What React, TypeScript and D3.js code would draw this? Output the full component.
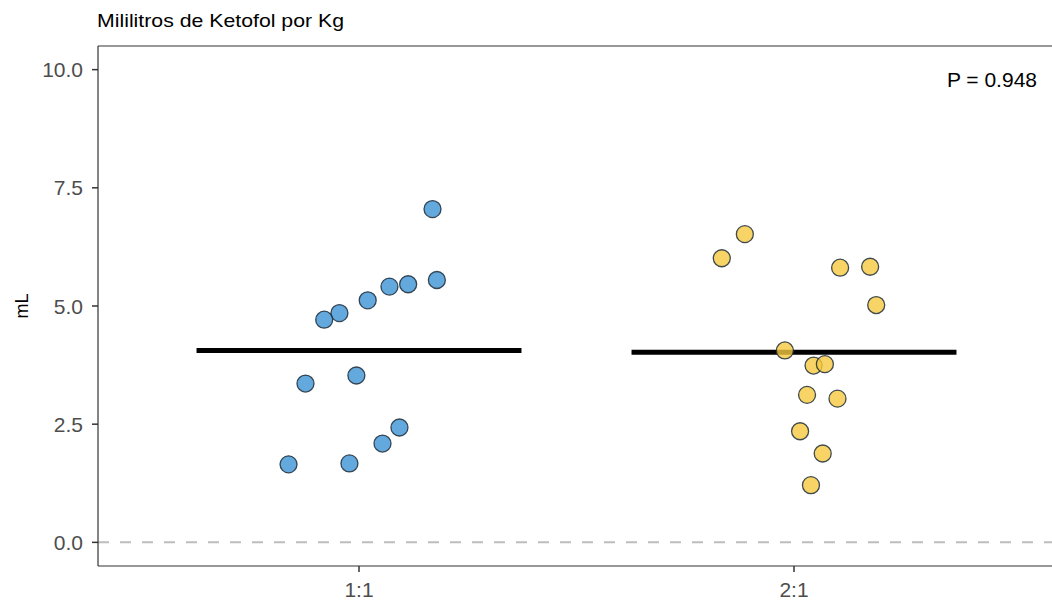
import React from "react";
import * as d3 from "d3";

const groups = ["1:1", "2:1"];
const valuesA = [7.05, 5.55, 5.46, 5.41, 5.12, 4.85, 4.71, 3.36, 3.53, 2.43, 2.09, 1.67, 1.65];
const jitterA = [0.169, 0.179, 0.113, 0.07, 0.02, -0.045, -0.08, -0.123, -0.006, 0.093, 0.054, -0.022, -0.162];
const valuesB = [6.52, 6.01, 5.81, 5.83, 5.02, 4.06, 3.74, 3.77, 3.12, 3.04, 2.35, 1.88, 1.21];
const jitterB = [-0.113, -0.166, 0.106, 0.175, 0.189, -0.021, 0.045, 0.071, 0.03, 0.1, 0.014, 0.066, 0.039];
const means = [4.06, 4.02];
const yTicks = [0, 2.5, 5, 7.5, 10];
const fills = ["#3d93d4", "#f5c93e"];
const title = "Mililitros de Ketofol por Kg";
const yLabel = "mL";
const pLabel = "P = 0.948";

export default function App() {
  const W = 1052, H = 601;
  const left = 98, top = 46, bottom = 566;
  const x = d3.scaleLinear().domain([0.4, 2.6]).range([left, 1055]);
  const y = d3.scaleLinear().domain([-0.5, 10.5]).range([bottom, top]);
  const font = "Arial, 'Liberation Sans', sans-serif";
  const series = [
    { vals: valuesA, jit: jitterA },
    { vals: valuesB, jit: jitterB },
  ];
  return (
    <svg width={W} height={H} style={{ position: "absolute", left: 0, top: 0, background: "#fff" }} fontFamily={font}>
      <rect x={0} y={0} width={W} height={H} fill="#fff" />
      <text x={97} y={27} fontSize={19} textLength={247} lengthAdjust="spacingAndGlyphs" fill="#000">{title}</text>
      <defs>
        <clipPath id="panel">
          <rect x={left} y={top} width={W - left} height={bottom - top} />
        </clipPath>
      </defs>
      <g clipPath="url(#panel)">
        <line x1={left} x2={W} y1={y(0)} y2={y(0)} stroke="#bdbdbd" strokeWidth={2} strokeDasharray="11,11" />
        {means.map((m, i) => (
          <line key={i} x1={x(i + 1 - 0.3735)} x2={x(i + 1 + 0.3735)} y1={y(m)} y2={y(m)} stroke="#000" strokeWidth={5} />
        ))}
        {series.map((s, gi) =>
          s.vals.map((v, k) => (
            <circle key={gi + "-" + k} cx={x(gi + 1 + s.jit[k])} cy={y(v)} r={8.5}
              fill={fills[gi]} fillOpacity={0.8} stroke="#1f2d3a" strokeOpacity={0.85} strokeWidth={1.3} />
          ))
        )}
      </g>
      <line x1={left} x2={W} y1={top} y2={top} stroke="#333" strokeWidth={1.2} />
      <line x1={left} x2={W} y1={bottom} y2={bottom} stroke="#333" strokeWidth={1.2} />
      <line x1={left} x2={left} y1={top} y2={bottom} stroke="#333" strokeWidth={1.2} />
      {yTicks.map((t) => (
        <g key={t}>
          <line x1={left - 6} x2={left} y1={y(t)} y2={y(t)} stroke="#333" strokeWidth={1.5} />
          <text x={83} y={y(t)} dy="0.36em" textAnchor="end" fontSize={21} fill="#4d4d4d">{t.toFixed(1)}</text>
        </g>
      ))}
      {groups.map((g, i) => (
        <g key={g}>
          <line x1={x(i + 1)} x2={x(i + 1)} y1={bottom} y2={bottom + 6} stroke="#333" strokeWidth={1.5} />
          <text x={x(i + 1)} y={597} textAnchor="middle" fontSize={21} fill="#4d4d4d">{g}</text>
        </g>
      ))}
      <text transform={`translate(28,${y(5)}) rotate(-90)`} textAnchor="middle" fontSize={18} fill="#000">{yLabel}</text>
      <text x={1037} y={87} textAnchor="end" fontSize={21} fill="#000">{pLabel}</text>
    </svg>
  );
}
